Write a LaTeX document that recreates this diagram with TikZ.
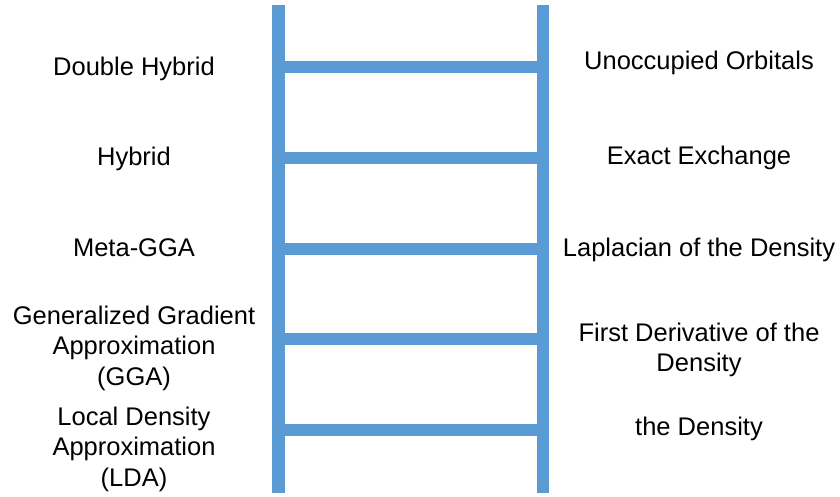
\documentclass[tikz,border=0pt]{standalone}
\usepackage{fontspec}
\setmainfont{Liberation Sans}
\usepackage{tikz}
\usetikzlibrary{positioning}
\definecolor{ladder}{RGB}{91,155,213}

\begin{document}
\begin{tikzpicture}[x=1pt,y=-1pt,
    rail/.style={draw=ladder,line width=12.7pt},
    rung/.style={draw=ladder,line width=12pt},
    lbl/.style={align=center,inner sep=0pt,font=\fontsize{25.5}{30.5}\selectfont}]
      \useasboundingbox (0,0) rectangle (840,497);
      \coordinate (LT) at (278.5,5.5);
      \coordinate (LB) at (278.5,492.5);
      \coordinate (RT) at (543,5.5);
      \coordinate (RB) at (543,492.5);
      \draw[rail] (LT) -- (LB);
      \draw[rail] (RT) -- (RB);
      \foreach \y in {67,157.75,248.5,339.25,430}
        \draw[rung] (278.5,\y) -- (543,\y);
      % left column
      \node (DH) [lbl,anchor=base] at (134,75.7) {Double Hybrid};
      \node (HY) [lbl,anchor=base] at (134,166) {Hybrid};
      \node (MG) [lbl,anchor=base] at (134,256.5) {Meta-GGA};
      \node (GGA) [lbl] at (134,348) {Generalized Gradient\\Approximation\\(GGA)};
      \node (LDA) [lbl] at (134,449) {Local Density\\Approximation\\(LDA)};
      % right column
      \node (UO) [lbl,anchor=base] at (699,69.3) {Unoccupied Orbitals};
      \node (EX) [lbl,anchor=base] at (699,165) {Exact Exchange};
      \node (LAP) [lbl,anchor=base] at (699,256.7) {Laplacian of the Density};
      \node (FD) [lbl] at (699,350) {First Derivative of the\\Density};
      \node (DEN) [lbl,anchor=base] at (699,435) {the Density};
    \end{tikzpicture}
\end{document}
